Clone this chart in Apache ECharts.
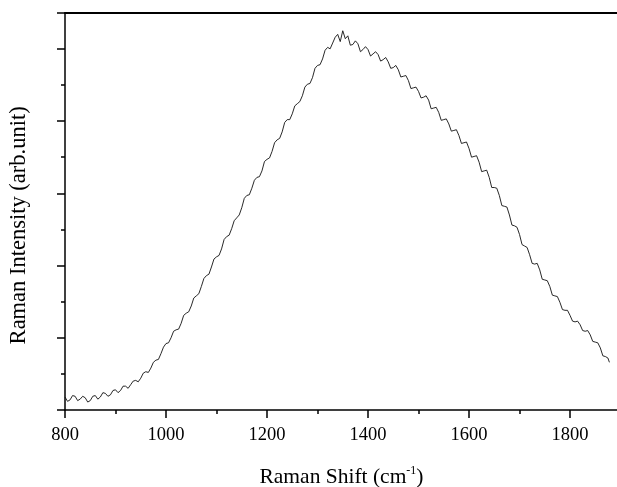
<!DOCTYPE html>
<html><head><meta charset="utf-8">
<script src="https://cdn.jsdelivr.net/npm/echarts@6/dist/echarts.min.js"></script>
<style>html,body{margin:0;padding:0;background:#fff}#c{width:617px;height:487px}</style>
</head><body><div id="c"></div>
<script>
const shifts = [800,805,810,815,820,825,830,835,840,845,850,855,860,865,870,875,880,885,890,895,
900,905,910,915,920,925,930,935,940,945,950,955,960,965,970,975,980,985,990,995,
1000,1005,1010,1015,1020,1025,1030,1035,1040,1045,1050,1055,1060,1065,1070,1075,1080,1085,1090,1095,
1100,1105,1110,1115,1120,1125,1130,1135,1140,1145,1150,1155,1160,1165,1170,1175,1180,1185,1190,1195,
1200,1205,1210,1215,1220,1225,1230,1235,1240,1245,1250,1255,1260,1265,1270,1275,1280,1285,1290,1295,
1300,1305,1310,1315,1320,1325,1330,1335,1340,1345,1350,1355,1360,1365,1370,1375,1380,1385,1390,1395,
1400,1405,1410,1415,1420,1425,1430,1435,1440,1445,1450,1455,1460,1465,1470,1475,1480,1485,1490,1495,
1500,1505,1510,1515,1520,1525,1530,1535,1540,1545,1550,1555,1560,1565,1570,1575,1580,1585,1590,1595,
1600,1605,1610,1615,1620,1625,1630,1635,1640,1645,1650,1655,1660,1665,1670,1675,1680,1685,1690,1695,
1700,1705,1710,1715,1720,1725,1730,1735,1740,1745,1750,1755,1760,1765,1770,1775,1780,1785,1790,1795,
1800,1805,1810,1815,1820,1825,1830,1835,1840,1845,1850,1855,1860,1865,1870,1875,1878];
const intensity = [0.18,0.12,0.14,0.20,0.19,0.13,0.15,0.19,0.17,0.11,0.13,0.19,0.20,0.15,0.18,0.24,0.23,0.19,0.21,0.27,
0.28,0.24,0.27,0.33,0.33,0.30,0.35,0.40,0.41,0.39,0.44,0.51,0.53,0.52,0.58,0.66,0.69,0.70,0.78,0.87,
0.92,0.93,1.00,1.09,1.11,1.12,1.20,1.31,1.34,1.36,1.44,1.55,1.58,1.61,1.71,1.82,1.86,1.88,1.98,2.09,
2.12,2.14,2.23,2.36,2.40,2.42,2.51,2.62,2.66,2.70,2.80,2.93,2.97,2.98,3.07,3.18,3.22,3.23,3.31,3.44,
3.47,3.49,3.58,3.70,3.74,3.76,3.85,3.98,4.02,4.02,4.10,4.21,4.24,4.27,4.35,4.47,4.51,4.52,4.60,4.73,
4.77,4.78,4.86,4.98,5.02,5.00,5.08,5.16,5.20,5.10,5.25,5.14,5.18,5.05,5.06,5.11,5.07,4.96,4.99,5.03,
4.99,4.90,4.93,4.96,4.92,4.83,4.85,4.88,4.82,4.73,4.74,4.77,4.71,4.61,4.62,4.63,4.56,4.45,4.46,4.47,
4.41,4.32,4.33,4.35,4.29,4.17,4.18,4.19,4.12,4.01,4.02,4.03,3.96,3.86,3.87,3.88,3.80,3.69,3.70,3.71,
3.62,3.50,3.51,3.52,3.43,3.30,3.31,3.32,3.22,3.08,3.08,3.07,2.97,2.83,2.82,2.81,2.70,2.56,2.55,2.53,
2.43,2.29,2.27,2.25,2.15,2.03,2.02,2.03,1.94,1.81,1.80,1.79,1.71,1.59,1.58,1.57,1.49,1.39,1.38,1.38,
1.31,1.23,1.22,1.23,1.18,1.10,1.09,1.10,1.04,0.95,0.94,0.93,0.86,0.75,0.74,0.72,0.66];
const xTicks = [800,1000,1200,1400,1600,1800];
const xName = 'Raman Shift (cm';
const yName = 'Raman Intensity (arb.unit)';

const chart = echarts.init(document.getElementById('c'), null, {renderer:'canvas'});
const font = '"Liberation Serif","Times New Roman",serif';
chart.setOption({
  animation:false,
  grid:{left:65, top:12.7, right:-1, bottom:77, containLabel:false, outerBoundsMode:'none'},
  xAxis:[{
    type:'value', min:800, max:1895, interval:200, position:'bottom',
    axisLine:{show:true,lineStyle:{color:'#000',width:1.5}},
    axisTick:{show:true,inside:false,length:8,lineStyle:{color:'#000',width:1.5}},
    minorTick:{show:true,splitNumber:2,length:4,lineStyle:{color:'#000',width:1.5}},
    splitLine:{show:false},
    axisLabel:{margin:16,color:'#000',fontSize:18.5,fontFamily:font,
      formatter:v=>xTicks.includes(v)?String(v):''},
    name:xName+'{sup|-1}{p|)}', nameLocation:'middle', nameGap:55,
    nameTextStyle:{color:'#000',fontSize:21.5,fontFamily:font,
      rich:{sup:{fontSize:12,fontFamily:font,color:'#000',verticalAlign:'top',padding:[0,0,12,0]},
            p:{fontSize:21.5,fontFamily:font,color:'#000'}}}
  },{
    type:'value', min:800, max:1895, position:'top',
    axisLine:{show:true,lineStyle:{color:'#000',width:1.8}},
    axisTick:{show:false}, axisLabel:{show:false}, splitLine:{show:false}
  }],
  yAxis:{
    type:'value', min:0, max:5.5, interval:1,
    axisLine:{show:true,lineStyle:{color:'#000',width:1.5}},
    axisTick:{show:true,inside:false,length:8,lineStyle:{color:'#000',width:1.5}},
    minorTick:{show:true,splitNumber:2,length:4,lineStyle:{color:'#000',width:1.5}},
    splitLine:{show:false},
    axisLabel:{show:false},
    name:yName, nameLocation:'middle', nameGap:34,
    nameTextStyle:{color:'#000',fontSize:22.5,fontFamily:font,padding:[0,28,0,0]}
  },
  series:[{
    type:'line', xAxisIndex:0, showSymbol:false, symbol:'none',
    data:shifts.map((s,i)=>[s,intensity[i]]),
    lineStyle:{color:'#111',width:0.9}
  }]
});
</script></body></html>
